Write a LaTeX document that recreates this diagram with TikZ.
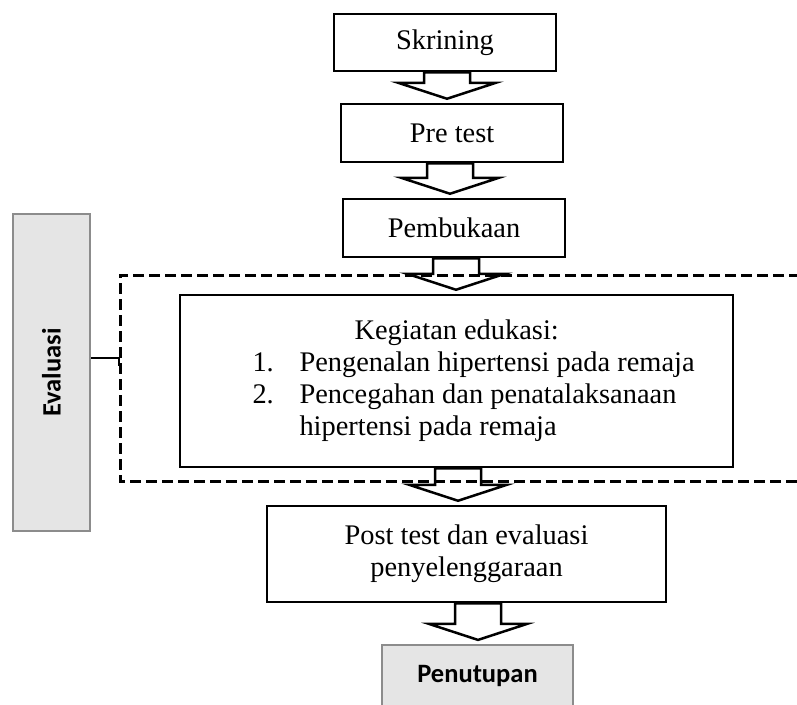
\documentclass[tikz,border=0pt]{standalone}
\usepackage{fontspec}
\setmainfont{Liberation Serif}
\newfontfamily\calibri{Carlito}
\usetikzlibrary{calc}

% block arrow from one box down to the next, on axis x = #3
\newcommand{\fatarrow}[3]{%
  \coordinate (top) at (#3,0 |- #1.south);
  \coordinate (tip) at ($(#3,0 |- #2.north)+(0,-4)$);
  \draw[fat] ($(top)+(-23,0)$) -- ($(tip)+(-23,-16)$) -- ($(tip)+(-49,-16)$) -- (tip)
             -- ($(tip)+(49,-16)$) -- ($(tip)+(23,-16)$) -- ($(top)+(23,0)$) -- cycle;
}

\begin{document}
\begin{tikzpicture}[x=1pt, y=-1pt,
    every node/.style={font=\fontsize{28.4}{32}\selectfont},
    box/.style={draw, line width=2.5pt, fill=white, align=center, inner sep=0pt},
    graybox/.style={draw=black!45, line width=2.2pt, fill=black!10, inner sep=0pt,
                    font=\calibri\bfseries\fontsize{26.5}{30}\selectfont},
    fat/.style={draw, line width=2.5pt, fill=white, line join=miter}]
        \clip (0,0) rectangle (797,704);

        % the steps
        \node[box, minimum width=222pt, minimum height=57pt] (skr) at (445,42.5) {Skrining};
        \node[box, minimum width=222pt, minimum height=58pt] (pre) at (452,133) {Pre test};
        \node[box, minimum width=222pt, minimum height=58pt] (buka) at (454,228) {Pembukaan};
        \node[box, minimum width=553pt, minimum height=172pt] (edu) at (456.5,381) {};
        \node[anchor=west, align=left] (edutxt) at (249,381)
             {\hspace*{102pt}Kegiatan edukasi:\\
              \makebox[47pt][l]{1.}Pengenalan hipertensi pada remaja\\
              \makebox[47pt][l]{2.}Pencegahan dan penatalaksanaan\\
              \hspace*{47pt}hipertensi pada remaja};
        \node[box, minimum width=399pt, minimum height=96pt] (post) at (466.5,554)
             {Post test dan evaluasi\\penyelenggaraan};
        \node[graybox, minimum width=191pt, minimum height=62pt] (tutup) at (477.5,676) {Penutupan};

        % evaluation bar on the left
        \node[graybox, minimum width=77pt, minimum height=317pt] (eval) at (51.5,372.5)
             {\rotatebox{90}{Evaluasi}};

        % the big arrows
        \fatarrow{skr}{pre}{447}
        \fatarrow{pre}{buka}{450}
        \fatarrow{buka}{edu}{456}
        \fatarrow{edu}{post}{458}
        \fatarrow{post}{tutup}{478}

        % dashed frame round the education part
        \draw[line width=3pt, dash pattern=on 11pt off 5pt] (800,275) -| (120,481) -- (800,481);
        \coordinate (frame) at (119,366);
        \draw[line width=2.5pt] (eval.east |- 0,358) -| (frame);
\end{tikzpicture}
\end{document}
